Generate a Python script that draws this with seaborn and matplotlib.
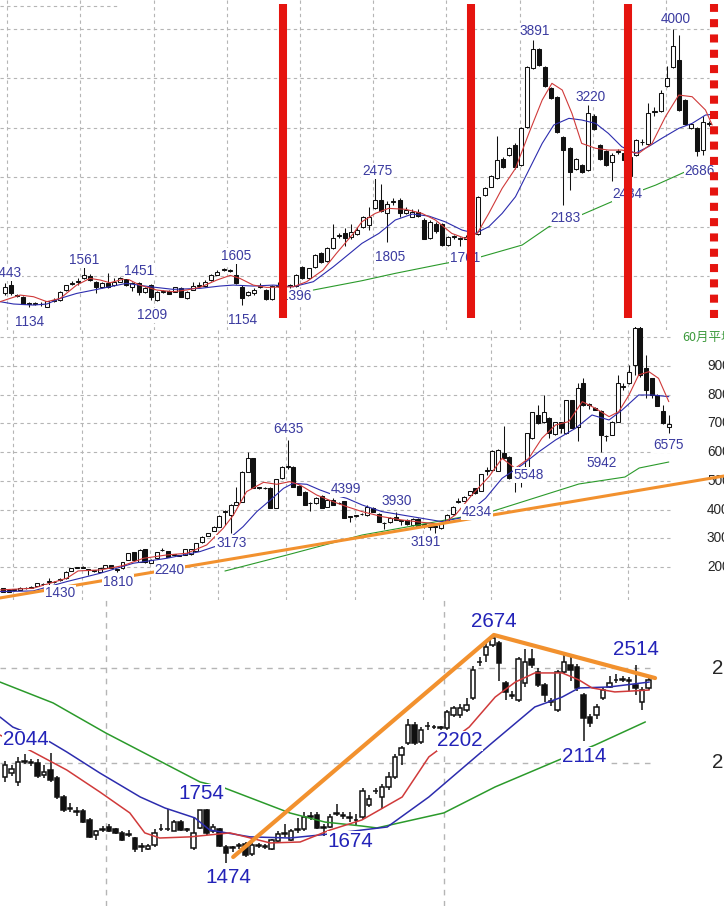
import numpy as np
import matplotlib
matplotlib.use("Agg")
import matplotlib.pyplot as plt
from matplotlib import font_manager as fm
import seaborn as sns

# ---------------- TOP PANEL DATA (weekly candles) ----------------
top_open = [1275,1360,1250,1240,1175,1165,1160,1137,1200,1206,
            1310,1375,1390,1430,1455,1395,1336,1385,1360,1395,
            1430,1345,1378,1292,1360,1206,1290,1300,1292,1326,
            1225,1310,1355,1350,1412,1465,1515,1505,1465,1343,
            1260,1275,1340,1310,1215,1355,1350,1352,1350,1550,
            1430,1550,1695,1610,1740,1870,1895,1860,1890,1960,
            1980,2150,2237,2100,2220,2237,2100,2065,2117,2030,
            1850,1990,1985,1770,1855,1845,1840,1850,1890,2290,
            2375,2460,2665,2700,2800,2600,2990,3600,3790,3610,
            3390,3300,2890,2770,2560,2600,2550,3100,2800,2740,
            2630,2730,2720,2480,2700,2830,2810,3140,3150,3410,
            3610,3680,3270,2980,2975,2750,3020]
top_high = [1380,1443,1265,1250,1190,1190,1185,1200,1225,1300,
            1365,1400,1430,1561,1470,1400,1395,1480,1430,1445,
            1451,1390,1395,1340,1370,1300,1305,1305,1345,1340,
            1300,1390,1390,1410,1475,1520,1540,1530,1605,1360,
            1300,1330,1380,1320,1360,1390,1370,1370,1470,1555,
            1540,1680,1700,1750,1990,1900,1950,1990,1960,2070,
            2170,2475,2400,2230,2260,2260,2160,2140,2140,2050,
            2030,2010,1995,1870,1875,1860,1880,1875,2280,2370,
            2490,2900,2680,2780,2820,2985,3620,3891,3800,3620,
            3400,3310,2900,2780,2670,2610,3220,3120,2810,2750,
            2720,2760,2800,2700,2870,2870,3240,3200,3370,3620,
            4000,3940,3280,3030,2990,3100,3050]
top_low = [1260,1260,1235,1160,1134,1150,1145,1135,1190,1200,
           1300,1360,1360,1420,1400,1275,1330,1330,1350,1390,
           1350,1300,1260,1280,1209,1200,1280,1265,1285,1235,
           1220,1305,1340,1345,1405,1460,1505,1495,1370,1154,
           1250,1260,1330,1210,1210,1340,1340,1330,1345,1420,
           1425,1540,1590,1600,1735,1850,1760,1830,1880,1950,
           1930,2140,2110,1805,2190,2060,2090,2060,2060,1830,
           1840,1900,1760,1765,1840,1761,1830,1840,1880,2280,
           2370,2450,2570,2690,2560,2590,2980,3590,3620,3400,
           3280,2930,2183,2340,2550,2520,2540,2960,2650,2590,
           2434,2710,2500,2470,2690,2800,2800,3100,3140,3400,
           3600,3150,3010,2970,2686,2700,3000]
top_close = [1343,1275,1245,1170,1170,1172,1168,1195,1206,1292,
             1360,1380,1395,1465,1412,1336,1385,1336,1395,1430,
             1360,1378,1292,1326,1240,1292,1295,1270,1336,1240,
             1292,1350,1360,1395,1465,1500,1520,1510,1378,1230,
             1292,1310,1345,1215,1350,1362,1355,1348,1465,1430,
             1533,1670,1600,1740,1850,1875,1845,1910,1930,2065,
             2065,2237,2120,2200,2225,2100,2135,2117,2070,1840,
             2010,1920,1770,1855,1860,1840,1860,1860,2270,2360,
             2480,2650,2580,2770,2580,2975,3610,3790,3630,3410,
             3290,2940,2750,2530,2655,2530,3130,2970,2660,2600,
             2700,2740,2650,2685,2855,2840,3130,3150,3340,3490,
             3820,3165,3020,3020,2740,3040,3030]

top_ma_short = [(-0.8,1189),(2.5,1257),(4.7,1240),(6.9,1189),(9.1,1223),(11.8,1360),(14.0,1429),
                (15.7,1412),(17.3,1384),(20.0,1429),(22.2,1360),(25.0,1309),(27.7,1292),(29.9,1309),
                (32.1,1336),(34.9,1412),(37.1,1460),(38.7,1429),(40.9,1360),(43.1,1336),(47.5,1343),
                (49.7,1395),(52.4,1515),(54.6,1687),(57.4,1893),(58.8,2013),(61.0,2099),(63.2,2151),
                (66.0,2141),(68.7,2099),(70.9,2031),(73.6,1893),(75.8,1842),(77.8,1893),(79.7,2099),
                (81.9,2357),(84.1,2563),(86.3,2924),(88.5,3268),(90.1,3440),(91.8,3371),(93.4,3130),
                (95.0,2821),(97.3,2770),(99.4,2752),(101.6,2752),(104.4,2718),(106.6,2821),(108.8,3096),
                (111.0,3319),(113.2,3302),(115.4,3165),(116.5,3010)]
top_ma_mid = [(-0.8,1189),(1.4,1165),(4.7,1154),(6.9,1165),(9.1,1223),(11.8,1274),(14.6,1309),
              (17.3,1343),(20.0,1378),(23.9,1343),(27.7,1316),(32.1,1326),(35.4,1350),(37.6,1360),
              (40.9,1350),(44.2,1360),(47.5,1343),(50.8,1395),(54.1,1549),(56.8,1687),(58.8,1790),
              (61.6,1893),(64.3,2031),(67.1,2092),(69.8,2072),(72.5,2013),(75.3,1927),(77.5,1893),
              (79.7,1962),(81.9,2099),(84.1,2271),(86.3,2546),(88.5,2821),(90.4,3010),(92.9,3079),
              (95.0,3062),(97.3,3027),(99.4,2924),(101.6,2787),(103.8,2718),(106.0,2787),(108.2,2873),
              (111.0,2976),(113.2,3027),(115.4,3113),(116.5,3120)]
top_ma_long = [(50.8,1309),(58.8,1405),(64.3,1481),(72.5,1584),(77.5,1635),(85.2,1773),(89.6,1962),
               (94.5,2072),(100.6,2237),(107.2,2391),(112.1,2529),(116.0,2580)]
top_labels = [("1443",0.25,1484),("1561",13.0,1618),("1451",22.1,1505),("1134",4.1,979),
              ("1209",24.2,1051),("1605",38.1,1660),("1154",39.2,1000),("1396",47.9,1247),
              ("2475",61.3,2536),("1805",63.4,1649),("1761",75.8,1639),("3891",87.3,3979),
              ("3220",96.4,3299),("2183",92.4,2051),("2434",102.6,2299),("4000",110.5,4103),
              ("2686",114.5,2536)]
top_markers = [45.8, 76.8, 102.6]
top_dotted_marker = 116.8

# ---------------- MIDDLE PANEL DATA ----------------
mid_open = [1260,1200,1190,1200,1250,1270,1350,1390,1480,1460,
            1540,1600,1860,1970,1975,1890,1860,1840,1976,2070,
            1900,1953,2243,2510,2185,2626,2140,2301,2580,2557,
            2410,2395,2417,2440,2557,2858,3090,3253,3404,3920,
            3810,4159,4275,5320,5784,4770,4745,4762,4066,5087,
            5480,5494,4820,4623,4210,4217,4472,4101,4333,4210,
            4298,3740,3780,3830,3810,4066,3850,3520,3555,3750,
            3600,3640,3462,3670,3460,3400,3405,3346,3578,3834,
            4270,4298,4507,4739,4646,5340,5378,5343,5958,5842,
            5087,5140,5320,6481,7293,7038,7200,6620,7038,6655,
            7816,6887,8396,7650,7549,7433,6560,6597,7061,8270,
            8396,9035,10312,8919,8570,7990,7433,6887]
mid_high = [1280,1220,1230,1300,1290,1320,1440,1440,1600,1500,
            1600,1860,1970,2010,2020,1930,1890,1960,2080,2080,
            1920,2180,2490,2530,2610,2640,2260,2520,2650,2570,
            2440,2420,2640,2640,2840,3070,3190,3420,3800,4000,
            4180,4797,5340,6016,5800,4800,4780,4780,5080,5510,
            6435,5510,4840,4640,4260,4420,4490,4350,4399,4260,
            4310,3780,3820,3870,4150,4080,3870,3560,3730,3930,
            3640,3660,3690,3690,3490,3440,3420,3540,3830,4120,
            4391,4470,4660,4760,5250,5494,6060,6100,6900,5860,
            5100,5200,6670,7400,7642,7990,7220,7060,7060,7830,
            7830,8396,8570,7700,7560,7450,6580,7080,8687,8420,
            9035,10500,10500,9383,8590,8010,7640,7300]
mid_low = [1120,1130,1170,1190,1230,1250,1340,1370,1250,1440,
           1520,1590,1850,1950,1950,1720,1820,1810,1960,1960,
           1810,1940,2230,2230,2170,2150,2130,2290,2560,2350,
           2400,2380,2400,2430,2540,2850,3080,3240,3390,3462,
           3173,4140,4260,5300,4740,4700,4700,4050,4050,5070,
           5400,4780,4490,4140,3950,4200,4050,4090,4140,4180,
           3700,3580,3740,3800,3790,3910,3560,3330,3540,3620,
           3450,3470,3440,3390,3350,3300,3191,3320,3560,3820,
           4234,4280,4490,4540,4630,5204,5360,5330,5760,5070,
           4623,4800,5300,6460,6980,7020,6500,6600,6680,6640,
           6830,6400,7620,7500,7450,6016,6400,6580,7040,8150,
           8380,8700,8600,7900,7900,7600,6980,6655]
mid_close = [1140,1140,1200,1280,1260,1280,1430,1400,1490,1470,
             1550,1840,1950,1980,1985,1900,1870,1950,2070,1976,
             1890,2162,2475,2243,2591,2162,2243,2510,2595,2360,
             2420,2405,2626,2626,2823,3056,3172,3404,3787,3930,
             4159,4275,5320,5784,4762,4760,4739,4066,5064,5494,
             5500,4797,4507,4159,4220,4391,4066,4333,4159,4230,
             3718,3750,3790,3840,4101,3927,3578,3530,3717,3640,
             3610,3490,3670,3404,3470,3410,3400,3520,3810,4101,
             4280,4449,4646,4565,5227,5350,6039,6074,5784,5087,
             4971,5150,6655,7386,7003,7386,6655,7038,6829,7816,
             6852,8245,7642,7640,7467,6597,6550,7061,8396,8280,
             8803,10312,8687,8164,7990,7618,7003,6968]

mid_ma_short = [(-0.5,1198),(5.3,1256),(11.2,1604),(13.2,1860),(17.1,1895),(21.1,2046),(24.7,2301),
                (28.8,2417),(32.3,2475),(35.8,2766),(38.7,3346),(40.5,3810),(42.8,4623),(45.8,4948),
                (48.1,4878),(50.4,4971),(52.2,4855),(55.1,4507),(58.0,4275),(60.4,4101),(63.1,3927),
                (66.6,3752),(70.1,3636),(73.6,3555),(77.1,3485),(79.5,3810),(82.4,4507),(85.4,5145),
                (87.7,5784),(90.0,5436),(92.4,5784),(94.7,6481),(97.1,6945),(99.4,7061),(101.8,7758),
                (104.1,7526),(106.5,7235),(108.2,7409),(110.0,7990),(111.7,8687),(113.5,8803),
                (115.2,8570),(117.0,7758)]
mid_ma_mid = [(-0.5,1140),(5.3,1163),(11.2,1488),(17.1,1779),(22.9,2127),(28.8,2301),(34.6,2533),
              (38.1,2766),(40.5,3114),(42.2,3404),(44.6,3927),(47.0,4333),(49.3,4739),(51.0,4913),
              (53.4,4878),(55.7,4681),(58.1,4507),(60.4,4391),(63.1,4159),(66.6,3927),(70.1,3810),
              (73.6,3694),(77.1,3578),(80.7,3718),(84.8,4391),(87.7,5087),(91.2,5552),(94.2,6016),
              (97.1,6423),(100.6,6829),(103.5,7293),(106.5,7119),(108.8,7467),(111.7,7990),
              (114.1,7990),(117.0,7932)]
mid_ma_60 = [(39.0,1857),(49.9,2415),(63.1,3111),(85.6,3913),(101.2,4889),(109.3,5132),
             (111.8,5446),(117.0,5655)]
mid_trend = [(-0.6,916),(126.7,5167)]
mid_labels = [("1430",10.0,1091),("1810",20.2,1474),("2240",29.2,1892),("3173",40.1,2833),
              ("6435",50.1,6805),("4399",60.3,4714),("3930",69.2,4296),("3191",74.2,2868),
              ("4234",83.3,3913),("5548",92.3,5202),("5942",105.1,5620),("6575",117.0,6247)]
mid_axis_ticks = [9000, 8000, 7000, 6000, 5000, 4000, 3000, 2000]

# ---------------- BOTTOM PANEL DATA ----------------
bot_open = [1928,1946,1900,2007,2005,2000,1937,1963,1920,1823,
            1765,1748,1745,1700,1620,1650,1665,1650,1630,1625,
            1605,1562,1545,1570,1650,1650,1644,1690,1648,1550,
            1660,1754,1640,1650,1560,1555,1565,1575,1520,1565,
            1560,1546,1590,1625,1595,1645,1650,1720,1725,1660,
            1665,1735,1725,1715,1700,1718,1780,1850,1823,1875,
            1928,2042,2104,2200,2112,2196,2190,2185,2183,2252,
            2252,2280,2340,2530,2570,2620,2630,2420,2355,2332,
            2420,2550,2480,2410,2325,2280,2480,2516,2507,2358,
            2244,2253,2340,2402,2437,2440,2437,2410,2322,2393]
bot_high = [2010,1990,2030,2045,2020,2020,1990,2050,1930,1830,
            1790,1770,1760,1710,1645,1670,1680,1660,1640,1645,
            1610,1580,1575,1650,1680,1760,1700,1700,1660,1718,
            1754,1760,1680,1660,1570,1565,1580,1585,1580,1580,
            1575,1600,1640,1680,1650,1710,1740,1740,1740,1680,
            1730,1785,1740,1740,1730,1870,1830,1870,1890,1950,
            2045,2090,2230,2215,2190,2215,2200,2195,2280,2300,
            2310,2340,2510,2560,2630,2674,2640,2430,2380,2560,
            2600,2600,2500,2420,2340,2490,2570,2560,2520,2370,
            2260,2310,2400,2460,2470,2460,2455,2514,2400,2450]
bot_low = [1900,1930,1880,1995,1985,1920,1920,1900,1810,1740,
           1740,1720,1685,1605,1595,1635,1635,1625,1590,1610,
           1530,1530,1540,1560,1640,1640,1640,1640,1635,1540,
           1650,1620,1630,1555,1474,1530,1545,1505,1510,1550,
           1545,1540,1585,1610,1590,1630,1640,1700,1650,1615,
           1660,1720,1705,1690,1670,1705,1770,1835,1760,1860,
           1915,1990,2095,2095,2100,2175,2180,2175,2175,2240,
           2235,2270,2330,2510,2530,2610,2430,2330,2335,2320,
           2400,2500,2400,2320,2300,2270,2470,2430,2380,2114,
           2190,2230,2330,2395,2420,2425,2380,2360,2280,2385]
bot_close = [1990,1967,2007,2010,2000,1930,1955,1910,1823,1750,
             1760,1743,1690,1612,1640,1648,1640,1630,1595,1620,
             1545,1560,1562,1630,1655,1655,1690,1648,1646,1630,
             1750,1630,1665,1565,1525,1551,1563,1515,1570,1563,
             1562,1592,1625,1628,1640,1650,1718,1715,1660,1658,
             1718,1732,1720,1712,1698,1850,1809,1852,1875,1928,
             2033,2077,2200,2104,2174,2193,2188,2183,2270,2288,
             2288,2305,2490,2533,2612,2656,2525,2375,2352,2546,
             2533,2515,2410,2358,2322,2480,2533,2490,2395,2235,
             2210,2297,2384,2419,2435,2438,2434,2393,2384,2437]

bot_ma_long = [(-0.77,2426),(7.4,2316),(15.5,2158),(30.0,1900),(33.8,1868),(43.8,1737),(49.2,1689),
               (54.9,1668),(57.2,1658),(67.5,1737),(75.4,1874),(85.2,2016),(90.8,2095),(98.5,2216)]
bot_ma_mid = [(-0.77,2242),(1.2,2189),(6.9,2111),(9.5,2058),(14.6,1947),(20.8,1821),(24.6,1763),
              (29.2,1711),(31.5,1647),(37.7,1611),(43.8,1605),(48.5,1621),(54.9,1647),(58.8,1663),
              (65.2,1821),(74.9,2105),(81.5,2295),(85.7,2347),(88.3,2395),(92.9,2400),(99.1,2426)]
bot_ma_short = [(-0.77,2147),(4.3,2058),(9.5,1963),(14.6,1847),(19.2,1737),(21.5,1632),(23.8,1605),
                (28.5,1611),(34.6,1632),(40.8,1579),(45.4,1584),(50.0,1647),(54.9,1700),(61.1,1821),
                (65.2,2032),(71.4,2189),(75.4,2347),(78.5,2426),(81.5,2474),(85.7,2474),(88.3,2437),
                (90.3,2395),(93.8,2374),(99.1,2384)]
bot_trend = [(35.1,1505),(75.2,2674),(100.0,2447)]
bot_labels = [("2044",3.2,2121),("1754",30.2,1837),("1474",34.3,1395),("1674",53.1,1589),
              ("2674",75.2,2747),("2514",97.1,2595),("2202",70.0,2116),("2114",89.1,2032)]
bot_axis_ticks = [2500, 2000]

# ---------------- STYLE ----------------
sns.set_theme(style="white")
plt.rcParams['font.family'] = ['Liberation Sans', 'DejaVu Sans']

_narrow = [f.fname for f in fm.fontManager.ttflist
           if 'LiberationSansNarrow-Regular' in f.fname]


def num_font(size):
    if _narrow:
        return fm.FontProperties(fname=_narrow[0], size=size)
    return fm.FontProperties(family=['Liberation Sans', 'DejaVu Sans'], size=size * 0.85)


INK = '#111111'
RED_MA = '#d03a3a'
BLUE_MA = '#2c2cae'
GREEN_MA = '#2b9a2b'
ORANGE = '#f2912e'
LABEL_C = '#3b3ba0'
BOT_LABEL_C = '#2323b8'
GRID_C = '#b5b5b5'

W, H = 724, 906
fig = plt.figure(figsize=(W / 100, H / 100), dpi=100)
fig.patch.set_facecolor('white')


def add_ax(top_px, bottom_px, xlim, ylim):
    ax = fig.add_axes([0, 1 - bottom_px / H, 1, (bottom_px - top_px) / H])
    ax.set_axis_off()
    ax.set_xlim(*xlim)
    ax.set_ylim(*ylim)
    return ax


def candles(ax, o, h, l, c, width, lw, min_h):
    o, h, l, c = map(np.asarray, (o, h, l, c))
    x = np.arange(len(o))
    ax.vlines(x, l, h, colors=INK, lw=lw, zorder=3)
    up = c >= o
    bottom = np.minimum(o, c)
    height = np.maximum(np.abs(c - o), min_h)
    ax.bar(x[up], height[up], bottom=bottom[up], width=width, color='white',
           edgecolor=INK, linewidth=lw, zorder=3.2)
    ax.bar(x[~up], height[~up], bottom=bottom[~up], width=width, color=INK,
           edgecolor=INK, linewidth=lw, zorder=3.2)


def line(ax, pts, color, lw, z=4):
    xs = [p[0] for p in pts]
    ys = [p[1] for p in pts]
    sns.lineplot(x=xs, y=ys, ax=ax, color=color, linewidth=lw, sort=False,
                 estimator=None, legend=False, zorder=z)


def put_labels(ax, items, size, color):
    fp = num_font(size)
    for txt, x, y in items:
        ax.text(x, y, txt, ha='center', va='center', fontproperties=fp, color=color,
                zorder=6, clip_on=False,
                bbox=dict(facecolor='white', edgecolor='none', pad=0.4))


# ---------------- TOP ----------------
ax1 = add_ax(0, 330, (-0.824, 118.45), (897, 4299))
ax1.hlines([1450, 1960, 2470, 2980, 3490, 4000], -0.9, 116.0, colors=GRID_C,
           linestyles=(0, (3, 3)), lw=0.8, zorder=0)
ax1.hlines([4237], -0.9, 18.5, colors=GRID_C, linestyles=(0, (3, 3)), lw=0.8, zorder=0)
ax1.vlines([0.3, 12.4, 24.5, 36.5, 48.6, 60.7, 72.7, 84.8, 96.9, 108.9], 897, 4299,
           colors=GRID_C, linestyles=(0, (3, 3)), lw=0.8, zorder=0)
candles(ax1, top_open, top_high, top_low, top_close, 0.66, 0.75, 8)
line(ax1, top_ma_long, GREEN_MA, 0.8)
line(ax1, top_ma_mid, BLUE_MA, 0.8)
line(ax1, top_ma_short, RED_MA, 0.8)
put_labels(ax1, top_labels, 11.5, LABEL_C)
for m in top_markers:
    ax1.axvline(m, ymin=1 - 318 / 330, ymax=1 - 4 / 330, color='#e5140f', lw=5.8,
                solid_capstyle='butt', zorder=10)
ax1.axvline(top_dotted_marker, ymin=1 - 318 / 330, ymax=1 - 4 / 330, color='#e5140f', lw=5.8,
            linestyle=(0, (1.0, 0.9)), dash_capstyle='butt', zorder=10)

# ---------------- MIDDLE ----------------
ax2 = add_ax(327, 600, (-0.527, 126.7), (847, 10359))
ax2.hlines([2000, 3000, 4000, 5000, 6000, 7000, 8000, 9000, 10000], -0.6, 117.2,
           colors=GRID_C, linestyles=(0, (3, 3)), lw=0.8, zorder=0)
ax2.vlines([1.8, 13.8, 25.8, 37.8, 49.8, 61.8, 73.8, 85.8, 97.8, 109.8], 847, 10359,
           colors=GRID_C, linestyles=(0, (3, 3)), lw=0.8, zorder=0)
candles(ax2, mid_open, mid_high, mid_low, mid_close, 0.7, 0.75, 25)
line(ax2, mid_ma_60, GREEN_MA, 0.8)
line(ax2, mid_ma_mid, BLUE_MA, 0.8)
line(ax2, mid_ma_short, RED_MA, 0.8)
line(ax2, mid_trend, ORANGE, 2.2, z=5)
put_labels(ax2, mid_labels, 11.5, LABEL_C)
_tick_fp = num_font(11.5)
for v in mid_axis_ticks:
    ax2.text(123.7, v, str(v), ha='left', va='center', fontproperties=_tick_fp,
             color='#262626', clip_on=False)
ax2.text(119.3, 10010, "60月平均線", ha='left', va='center', fontsize=9, color='#3c9a3c',
         family=['Noto Sans CJK JP', 'DejaVu Sans'], clip_on=False)

# ---------------- BOTTOM ----------------
ax3 = add_ax(600, 906, (-0.769, 110.6), (1247, 2858))
ax3.hlines([2500, 2000], -0.8, 99.2, colors=GRID_C, linestyles=(0, (4, 4)), lw=1.0, zorder=0)
ax3.vlines([15.5, 67.5], 1247, 2858, colors=GRID_C, linestyles=(0, (4, 4)), lw=1.0, zorder=0)
candles(ax3, bot_open, bot_high, bot_low, bot_close, 0.7, 1.1, 4)
line(ax3, bot_ma_long, GREEN_MA, 1.1)
line(ax3, bot_ma_mid, BLUE_MA, 1.1)
line(ax3, bot_ma_short, RED_MA, 1.1)
line(ax3, bot_trend, ORANGE, 3.0, z=5)
put_labels(ax3, bot_labels, 17.5, BOT_LABEL_C)
_btick_fp = num_font(17.5)
for v in bot_axis_ticks:
    ax3.text(108.8, v, str(v), ha='left', va='center', fontproperties=_btick_fp,
             color='#262626', clip_on=False)

fig.savefig("out.png", dpi=100, facecolor='white')
